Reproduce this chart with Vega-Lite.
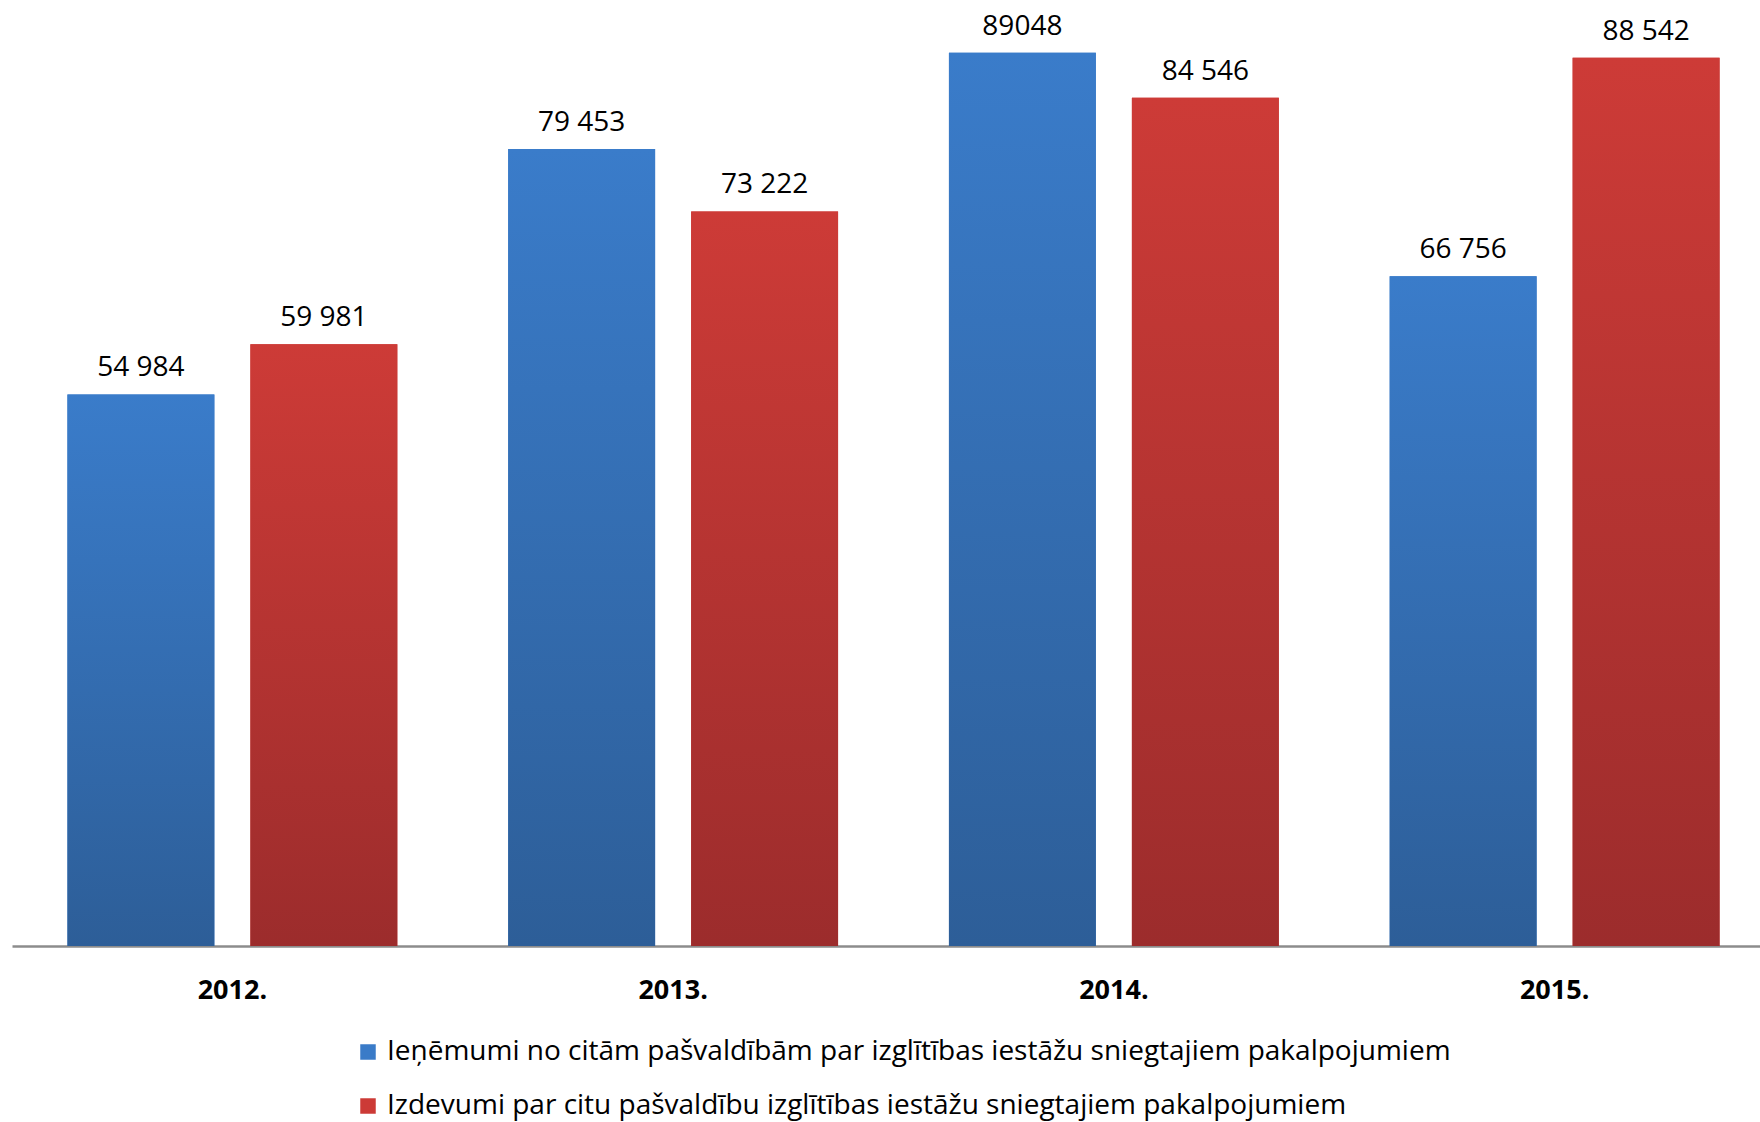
{
  "$schema": "https://vega.github.io/schema/vega-lite/v6.json",
  "autosize": {"type": "none"},
  "width": 1748,
  "height": 946,
  "padding": {"left": 12, "top": 0, "right": 0, "bottom": 176},
  "background": "white",
  "config": {
    "view": {"stroke": null},
    "font": "Open Sans",
    "axis": {"grid": false}
  },
  "data": {
    "values": [
      {"year": "2012.", "series": "Ieņēmumi no citām pašvaldībām par izglītības iestāžu sniegtajiem pakalpojumiem", "value": 54984, "label": "54 984"},
      {"year": "2012.", "series": "Izdevumi par citu pašvaldību izglītības iestāžu sniegtajiem pakalpojumiem", "value": 59981, "label": "59 981"},
      {"year": "2013.", "series": "Ieņēmumi no citām pašvaldībām par izglītības iestāžu sniegtajiem pakalpojumiem", "value": 79453, "label": "79 453"},
      {"year": "2013.", "series": "Izdevumi par citu pašvaldību izglītības iestāžu sniegtajiem pakalpojumiem", "value": 73222, "label": "73 222"},
      {"year": "2014.", "series": "Ieņēmumi no citām pašvaldībām par izglītības iestāžu sniegtajiem pakalpojumiem", "value": 89048, "label": "89048"},
      {"year": "2014.", "series": "Izdevumi par citu pašvaldību izglītības iestāžu sniegtajiem pakalpojumiem", "value": 84546, "label": "84 546"},
      {"year": "2015.", "series": "Ieņēmumi no citām pašvaldībām par izglītības iestāžu sniegtajiem pakalpojumiem", "value": 66756, "label": "66 756"},
      {"year": "2015.", "series": "Izdevumi par citu pašvaldību izglītības iestāžu sniegtajiem pakalpojumiem", "value": 88542, "label": "88 542"}
    ]
  },
  "encoding": {
    "x": {
      "field": "year", "type": "nominal", "sort": null,
      "scale": {"range": [0, 1763], "paddingInner": 0, "paddingOuter": 0},
      "axis": {
        "title": null, "labelAngle": 0, "ticks": false, "tickSize": 0,
        "domainColor": "#8c8c8c", "domainWidth": 2.5,
        "labelFont": "Open Sans", "labelFontWeight": "bold", "labelFontSize": 27,
        "labelColor": "#000000", "labelPadding": 31
      }
    },
    "xOffset": {
      "field": "series", "type": "nominal",
      "scale": {
        "domain": ["Ieņēmumi no citām pašvaldībām par izglītības iestāžu sniegtajiem pakalpojumiem", "Izdevumi par citu pašvaldību izglītības iestāžu sniegtajiem pakalpojumiem"],
        "paddingInner": 0.197, "paddingOuter": 0.303
      }
    },
    "y": {
      "field": "value", "type": "quantitative",
      "scale": {"domain": [0, 94300], "nice": false, "zero": true},
      "axis": null
    }
  },
  "layer": [
    {
      "mark": {"type": "bar"},
      "encoding": {
        "color": {
          "field": "series", "type": "nominal",
          "scale": {
            "domain": ["Ieņēmumi no citām pašvaldībām par izglītības iestāžu sniegtajiem pakalpojumiem", "Izdevumi par citu pašvaldību izglītības iestāžu sniegtajiem pakalpojumiem"],
            "range": ["#3A7BC8", "#CC3A36"]
          },
          "legend": {
            "title": null, "orient": "none", "direction": "vertical",
            "legendX": 342, "legendY": 1038, "padding": 0,
            "symbolType": "square", "symbolSize": 240, "symbolStrokeWidth": 0,
            "labelFont": "Open Sans", "labelFontSize": 28, "labelColor": "#000000",
            "labelOffset": 5, "rowPadding": 26, "labelLimit": 0
          }
        }
      }
    },
    {
      "transform": [{"filter": "datum.series === 'Ieņēmumi no citām pašvaldībām par izglītības iestāžu sniegtajiem pakalpojumiem'"}],
      "mark": {
        "type": "bar",
        "fill": {"gradient": "linear", "x1": 0, "y1": 0, "x2": 0, "y2": 1,
          "stops": [{"offset": 0, "color": "#3A7CCA"}, {"offset": 1, "color": "#2D5E98"}]}
      }
    },
    {
      "transform": [{"filter": "datum.series === 'Izdevumi par citu pašvaldību izglītības iestāžu sniegtajiem pakalpojumiem'"}],
      "mark": {
        "type": "bar",
        "fill": {"gradient": "linear", "x1": 0, "y1": 0, "x2": 0, "y2": 1,
          "stops": [{"offset": 0, "color": "#CD3B37"}, {"offset": 1, "color": "#9C2C2C"}]}
      }
    },
    {
      "mark": {"type": "text", "baseline": "alphabetic", "align": "center", "dy": -18, "fontSize": 28, "font": "Open Sans", "color": "#000000"},
      "encoding": {"text": {"field": "label"}}
    }
  ]
}
